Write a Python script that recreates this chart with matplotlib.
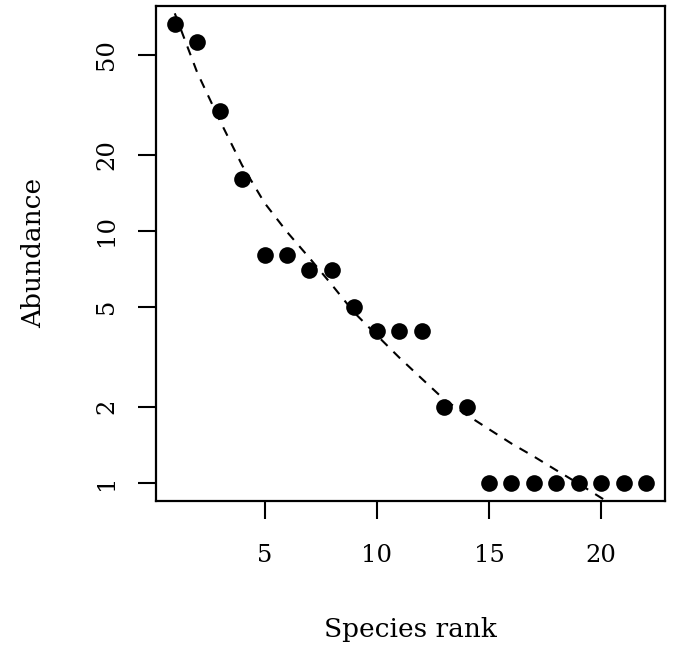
import matplotlib
matplotlib.use("Agg")
import matplotlib.pyplot as plt
import numpy as np

# =========================
# Data
# =========================
ranks = list(range(1, 23))
abundance = [66, 56, 30, 16, 8, 8, 7, 7, 5, 4, 4, 4, 2, 2,
             1, 1, 1, 1, 1, 1, 1, 1]

# fitted model (dashed), values at each rank
fit_ranks = list(range(1, 23))
fit_values = [73, 42.5, 27.5, 18.2, 12.9, 9.9, 7.8, 6.1, 4.73, 3.85, 3.14,
              2.59, 2.14, 1.86, 1.63, 1.43, 1.27, 1.12, 0.99, 0.87, 0.77, 0.68]

x_ticks = [5, 10, 15, 20]
y_ticks = [1, 2, 5, 10, 20, 50]

# =========================
# Style
# =========================
plt.rcParams["font.family"] = ["DejaVu Serif"]
tick_fs = 17.5
label_fs = 19
ink = "black"

fig = plt.figure(figsize=(6.75, 6.52), dpi=100)
ax = fig.add_axes([0.231, 0.2316, 0.754, 0.7594])

ax.plot(fit_ranks, fit_values, linestyle=(0, (4.5, 4)), color=ink, linewidth=1.5)
ax.plot(ranks, abundance, "o", color=ink, markersize=12, markeredgewidth=0)

ax.set_yscale("log")
ax.set_xlim(0.16, 22.84)
ax.set_ylim(10 ** -0.073, 10 ** 1.893)

ax.set_xticks(x_ticks)
ax.set_xticklabels([str(t) for t in x_ticks], fontsize=tick_fs)
ax.set_yticks(y_ticks)
ax.set_yticklabels([str(t) for t in y_ticks], fontsize=tick_fs,
                   rotation=90, va="center")
ax.yaxis.set_minor_locator(matplotlib.ticker.NullLocator())

ax.tick_params(axis="both", direction="out", length=13, width=1.5,
               color=ink, pad=14)
ax.tick_params(axis="x", pad=18)
for sp in ax.spines.values():
    sp.set_linewidth(1.6)
    sp.set_color(ink)

ax.set_xlabel("Species rank", fontsize=label_fs)
ax.set_ylabel("Abundance", fontsize=label_fs)
ax.xaxis.set_label_coords(0.5, -0.235)
ax.yaxis.set_label_coords(-0.215, 0.5)

fig.savefig("out.png", dpi=100)
